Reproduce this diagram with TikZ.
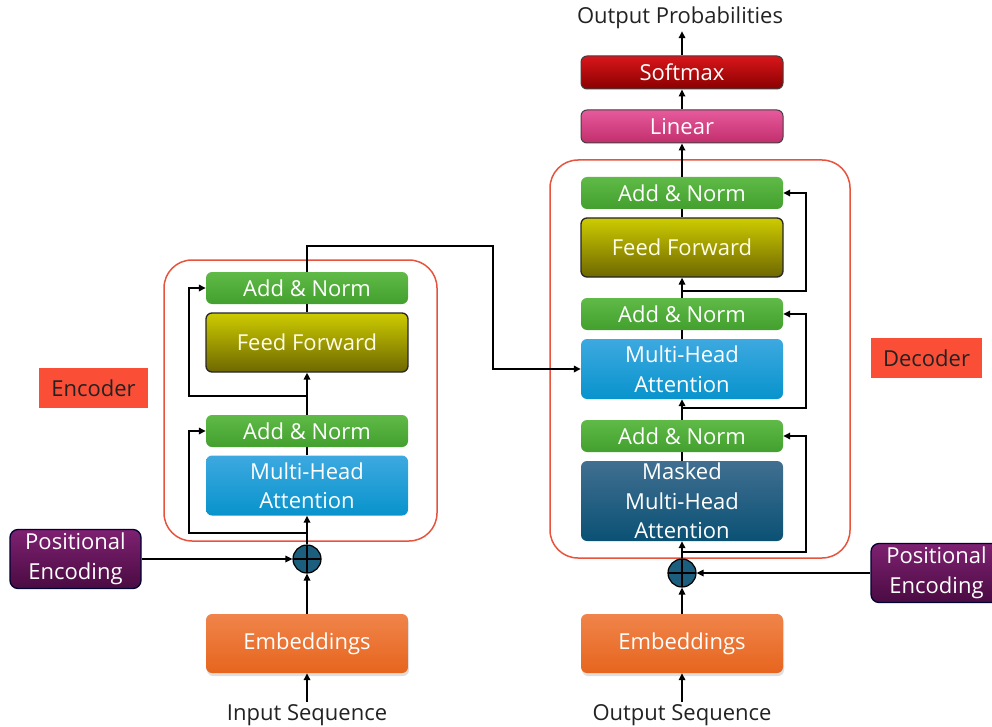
\documentclass[tikz,border=0pt]{standalone}
\usepackage{fontspec}
\setmainfont{Open Sans}
\usetikzlibrary{arrows.meta,shadows}

\definecolor{anT}{HTML}{5FBA47}
\definecolor{anB}{HTML}{43A02E}
\definecolor{ffT}{HTML}{CDCB00}
\definecolor{ffB}{HTML}{6E6800}
\definecolor{mhT}{HTML}{3DA9E0}
\definecolor{mhB}{HTML}{0893CC}
\definecolor{mmT}{HTML}{416F91}
\definecolor{mmB}{HTML}{0A5174}
\definecolor{emT}{HTML}{F0844A}
\definecolor{emB}{HTML}{E6651E}
\definecolor{peT}{HTML}{7E2171}
\definecolor{peB}{HTML}{4A0B42}
\definecolor{liT}{HTML}{E65A9C}
\definecolor{liB}{HTML}{C22E6C}
\definecolor{smT}{HTML}{D8161B}
\definecolor{smB}{HTML}{8A0000}
\definecolor{addfill}{HTML}{1B5E7E}
\definecolor{framered}{HTML}{E8533D}
\definecolor{tagred}{HTML}{FA4F36}
\definecolor{inktext}{HTML}{222222}

\begin{document}
\begin{tikzpicture}[x=1pt,y=-1pt,
  font=\fontsize{22}{29.5}\selectfont,
  blk/.style={rectangle, rounded corners=6pt, minimum width=202pt, inner sep=0pt,
              text=white, align=center},
  addnorm/.style={blk, minimum height=32pt, top color=anT, bottom color=anB},
  ffbox/.style={blk, minimum height=59pt, top color=ffT, bottom color=ffB,
                draw=black!85, line width=1.3pt, text=white!90!yellow},
  mhabox/.style={blk, minimum height=60pt, top color=mhT, bottom color=mhB},
  maskbox/.style={blk, minimum height=80pt, top color=mmT, bottom color=mmB},
  embbox/.style={blk, minimum height=59pt, top color=emT, bottom color=emB,
                 drop shadow={shadow xshift=1pt, shadow yshift=-3pt, opacity=.25}},
  pebox/.style={blk, minimum width=131pt, minimum height=59pt, rounded corners=8pt,
                top color=peT, bottom color=peB, draw=black!80!blue, line width=1.3pt},
  thinbox/.style={blk, minimum height=33pt, draw=black!75, line width=1pt},
  plusnode/.style={circle, minimum size=28pt, inner sep=0pt, fill=addfill,
                   draw=black, line width=1.2pt,
                   path picture={\draw[black, line width=1.3pt]
                     (path picture bounding box.north) -- (path picture bounding box.south)
                     (path picture bounding box.west) -- (path picture bounding box.east);}},
  tag/.style={rectangle, fill=tagred, text=inktext, minimum height=40pt, inner sep=0pt},
  frame/.style={rectangle, draw=framered, line width=1.5pt, rounded corners=28pt},
  plain/.style={text=inktext, inner sep=2pt},
  arr/.style={-{Triangle[length=7pt,width=6.5pt]}, line width=1.6pt, draw=black},
  ln/.style={line width=1.6pt, draw=black}
]
\useasboundingbox (0,0) rectangle (992,727);

% ---------------- Encoder ----------------
\node[frame, minimum width=273pt, minimum height=281pt] (efr) at (300.5,400.5) {};
\node[addnorm] (ean2) at (307,288) {Add \& Norm};
\node[ffbox] (eff) at (307,342.5) {Feed Forward};
\node[addnorm] (ean1) at (307,431) {Add \& Norm};
\node[mhabox] (emha) at (307,485.5) {Multi-Head\\Attention};
\node[plusnode] (eadd) at (307,559) {};
\node[pebox] (epe) at (75.5,559) {Positional\\Encoding};
\node[embbox] (eemb) at (307,643.5) {Embeddings};
\node[plain] (ein) at (307,715) {Input Sequence};
\node[tag, minimum width=109pt] (etag) at (93.5,388) {Encoder};

\coordinate (eL) at (189,0);
\coordinate (er1) at (307,533);
\coordinate (er2) at (307,396);
\coordinate (c1) at (307,246);
\coordinate (c2) at (493,246);

\draw[arr] (ein) -- (eemb);
\draw[arr] (eemb) -- (eadd);
\draw[arr] (epe) -- (eadd);
\draw[arr] (eadd) -- (emha);
\draw[ln] (emha) -- (ean1);
\draw[arr] (ean1) -- (eff);
\draw[ln] (eff) -- (ean2);
\draw[arr] (er1) -- (er1 -| eL) |- (ean1.west);
\draw[arr] (er2) -- (er2 -| eL) |- (ean2.west);

% ---------------- Decoder ----------------
\node[frame, minimum width=300pt, minimum height=398pt] (dfr) at (700,359) {};
\node[addnorm] (dan3) at (682,193) {Add \& Norm};
\node[ffbox] (dff) at (682,247.5) {Feed Forward};
\node[addnorm] (dan2) at (682,314) {Add \& Norm};
\node[mhabox] (dmha) at (682,369) {Multi-Head\\Attention};
\node[addnorm] (dan1) at (682,436) {Add \& Norm};
\node[maskbox] (dmm) at (682,501) {Masked\\Multi-Head\\Attention};
\node[plusnode] (dadd) at (682,573) {};
\node[pebox] (dpe) at (936.5,573) {Positional\\Encoding};
\node[embbox] (demb) at (682,643.5) {Embeddings};
\node[plain] (dout) at (682,715) {Output Sequence};
\node[thinbox, top color=liT, bottom color=liB] (dlin) at (682,126.5) {Linear};
\node[thinbox, top color=smT, bottom color=smB] (dsm) at (682,72.5) {Softmax};
\node[plain] (dprob) at (680,18) {Output Probabilities};
\node[tag, minimum width=111pt] (dtag) at (926.5,358) {Decoder};

\coordinate (dR) at (806,0);
\coordinate (dr1) at (682,552);
\coordinate (dr2) at (682,408);
\coordinate (dr3) at (682,291);

\draw[arr] (dout) -- (demb);
\draw[arr] (demb) -- (dadd);
\draw[arr] (dpe) -- (dadd);
\draw[arr] (dadd) -- (dmm);
\draw[ln] (dmm) -- (dan1);
\draw[arr] (dan1) -- (dmha);
\draw[ln] (dmha) -- (dan2);
\draw[arr] (dan2) -- (dff);
\draw[ln] (dff) -- (dan3);
\draw[arr] (dan3) -- (dlin);
\draw[arr] (dlin) -- (dsm);
\draw[arr] (dsm) -- (dsm.north |- dprob.south);
\draw[arr] (dr1) -- (dr1 -| dR) |- (dan1.east);
\draw[arr] (dr2) -- (dr2 -| dR) |- (dan2.east);
\draw[arr] (dr3) -- (dr3 -| dR) |- (dan3.east);

% encoder output into the decoder attention
\draw[arr] (ean2) -- (c1) -- (c2) |- (dmha.west);
\end{tikzpicture}
\end{document}
